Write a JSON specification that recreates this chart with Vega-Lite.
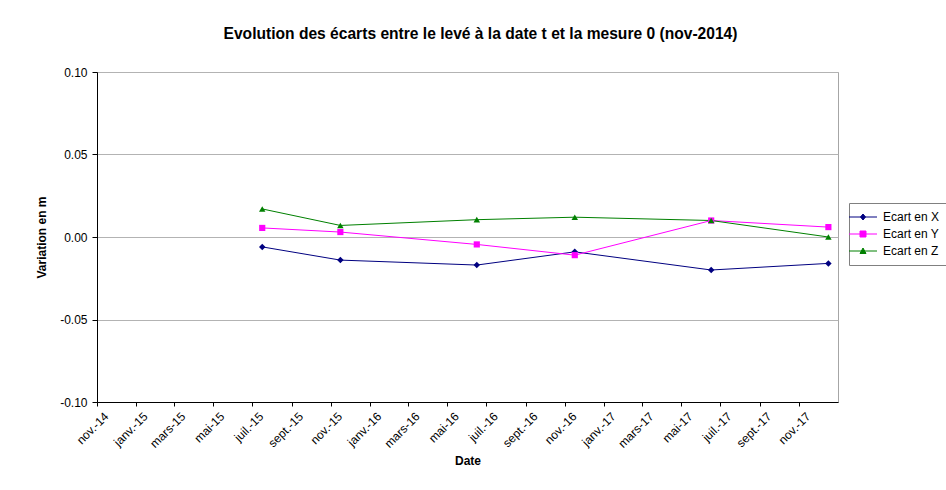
{
  "$schema": "https://vega.github.io/schema/vega-lite/v6.json",
  "width": 741,
  "height": 330,
  "autosize": {"type": "none"},
  "padding": {"left": 97, "top": 72, "right": 108, "bottom": 88},
  "background": "white",
  "title": {
    "text": "Evolution des écarts entre le levé à la date t et la mesure 0 (nov-2014)",
    "font": "Liberation Sans",
    "fontSize": 15.6,
    "fontWeight": "bold",
    "color": "black",
    "anchor": "middle",
    "baseline": "alphabetic",
    "offset": 11,
    "dx": 13
  },
  "data": {
    "values": [
      {"date": "2015-07-17", "series": "Ecart en X", "v": -0.006},
      {"date": "2015-11-16", "series": "Ecart en X", "v": -0.014},
      {"date": "2016-06-16", "series": "Ecart en X", "v": -0.017},
      {"date": "2016-11-16", "series": "Ecart en X", "v": -0.009},
      {"date": "2017-06-17", "series": "Ecart en X", "v": -0.020},
      {"date": "2017-12-17", "series": "Ecart en X", "v": -0.016},
      {"date": "2015-07-17", "series": "Ecart en Y", "v": 0.0055},
      {"date": "2015-11-16", "series": "Ecart en Y", "v": 0.003},
      {"date": "2016-06-16", "series": "Ecart en Y", "v": -0.0045},
      {"date": "2016-11-16", "series": "Ecart en Y", "v": -0.011},
      {"date": "2017-06-17", "series": "Ecart en Y", "v": 0.010},
      {"date": "2017-12-17", "series": "Ecart en Y", "v": 0.006},
      {"date": "2015-07-17", "series": "Ecart en Z", "v": 0.017},
      {"date": "2015-11-16", "series": "Ecart en Z", "v": 0.007},
      {"date": "2016-06-16", "series": "Ecart en Z", "v": 0.0105},
      {"date": "2016-11-16", "series": "Ecart en Z", "v": 0.012},
      {"date": "2017-06-17", "series": "Ecart en Z", "v": 0.010},
      {"date": "2017-12-17", "series": "Ecart en Z", "v": 0.000}
    ]
  },
  "config": {
    "font": "Liberation Sans",
    "view": {"stroke": "#a6a6a6", "strokeWidth": 1},
    "axis": {
      "labelFont": "Liberation Sans",
      "labelFontSize": 12,
      "labelColor": "black",
      "titleFont": "Liberation Sans",
      "titleFontSize": 12,
      "titleFontWeight": "bold",
      "titleColor": "black",
      "domainColor": "black",
      "domainWidth": 1,
      "tickColor": "black",
      "tickWidth": 1
    }
  },
  "layer": [
    {
      "mark": {"type": "line", "strokeWidth": 1},
      "encoding": {
        "x": {
          "field": "date",
          "type": "temporal",
          "title": "Date",
          "scale": {
            "type": "utc",
            "nice": false,
            "domain": [
              {"year": 2014, "month": 11, "date": 1, "utc": true},
              {"year": 2018, "month": 1, "date": 1, "utc": true}
            ]
          },
          "axis": {
            "values": [
              {"year": 2014, "month": 11, "date": 1, "utc": true},
              {"year": 2015, "month": 1, "date": 1, "utc": true},
              {"year": 2015, "month": 3, "date": 1, "utc": true},
              {"year": 2015, "month": 5, "date": 1, "utc": true},
              {"year": 2015, "month": 7, "date": 1, "utc": true},
              {"year": 2015, "month": 9, "date": 1, "utc": true},
              {"year": 2015, "month": 11, "date": 1, "utc": true},
              {"year": 2016, "month": 1, "date": 1, "utc": true},
              {"year": 2016, "month": 3, "date": 1, "utc": true},
              {"year": 2016, "month": 5, "date": 1, "utc": true},
              {"year": 2016, "month": 7, "date": 1, "utc": true},
              {"year": 2016, "month": 9, "date": 1, "utc": true},
              {"year": 2016, "month": 11, "date": 1, "utc": true},
              {"year": 2017, "month": 1, "date": 1, "utc": true},
              {"year": 2017, "month": 3, "date": 1, "utc": true},
              {"year": 2017, "month": 5, "date": 1, "utc": true},
              {"year": 2017, "month": 7, "date": 1, "utc": true},
              {"year": 2017, "month": 9, "date": 1, "utc": true},
              {"year": 2017, "month": 11, "date": 1, "utc": true}
            ],
            "labelExpr": "['janv.','févr.','mars','avr.','mai','juin','juil.','août','sept.','oct.','nov.','déc.'][utcmonth(datum.value)] + '-' + utcFormat(datum.value, '%y')",
            "labelAngle": -45,
            "labelAlign": "right",
            "labelBaseline": "middle",
            "labelOverlap": false,
            "labelOffset": 9,
            "labelPadding": 8,
            "tickSize": 4,
            "grid": false,
            "titlePadding": 6
          }
        },
        "y": {
          "field": "v",
          "type": "quantitative",
          "title": "Variation en m",
          "scale": {"domain": [-0.1, 0.1], "nice": false, "zero": false},
          "axis": {
            "values": [-0.1, -0.05, 0, 0.05, 0.1],
            "labelExpr": "replace(format(datum.value, '.2f'), '\u2212', '-')",
            "tickSize": 5,
            "labelPadding": 5,
            "grid": true,
            "gridColor": "#b3b3b3",
            "gridWidth": 1,
            "titlePadding": 11
          }
        },
        "color": {
          "field": "series",
          "type": "nominal",
          "title": null,
          "scale": {"domain": ["Ecart en X", "Ecart en Y", "Ecart en Z"], "range": ["#000080", "#ff00ff", "#008000"]},
          "legend": {
            "orient": "none",
            "legendX": 752,
            "legendY": 131,
            "padding": 8,
            "strokeColor": "#808080",
            "fillColor": "white",
            "labelFontSize": 12,
            "labelColor": "black",
            "labelFont": "Liberation Sans",
            "symbolSize": 100,
            "symbolStrokeWidth": 1,
            "labelOffset": 14,
            "rowPadding": 5,
            "symbolOpacity": 1,
            "encode": {
              "symbols": {
                "update": {
                  "shape": {"signal": "datum.value === 'Ecart en X' ? 'M-2.8,0H2.8M0,-0.6L0.5,0L0,0.6L-0.5,0Z' : datum.value === 'Ecart en Y' ? 'M-2.8,0H2.8M-0.6,-0.6H0.6V0.6H-0.6Z' : 'M-2.8,0H2.8M0,-0.6L0.6,0.5H-0.6Z'"},
                  "fill": {"scale": "color", "field": "value"},
                  "stroke": {"scale": "color", "field": "value"}
                }
              }
            }
          }
        }
      }
    },
    {
      "transform": [{"filter": "datum.series == 'Ecart en X'"}],
      "mark": {"type": "point", "shape": "diamond", "filled": true, "size": 42, "color": "#000080", "opacity": 1},
      "encoding": {
        "x": {"field": "date", "type": "temporal"},
        "y": {"field": "v", "type": "quantitative"}
      }
    },
    {
      "transform": [{"filter": "datum.series == 'Ecart en Y'"}],
      "mark": {"type": "point", "shape": "square", "filled": true, "size": 38, "color": "#ff00ff", "opacity": 1},
      "encoding": {
        "x": {"field": "date", "type": "temporal"},
        "y": {"field": "v", "type": "quantitative"}
      }
    },
    {
      "transform": [{"filter": "datum.series == 'Ecart en Z'"}],
      "mark": {"type": "point", "shape": "triangle-up", "filled": true, "size": 42, "color": "#008000", "opacity": 1},
      "encoding": {
        "x": {"field": "date", "type": "temporal"},
        "y": {"field": "v", "type": "quantitative"}
      }
    }
  ]
}
